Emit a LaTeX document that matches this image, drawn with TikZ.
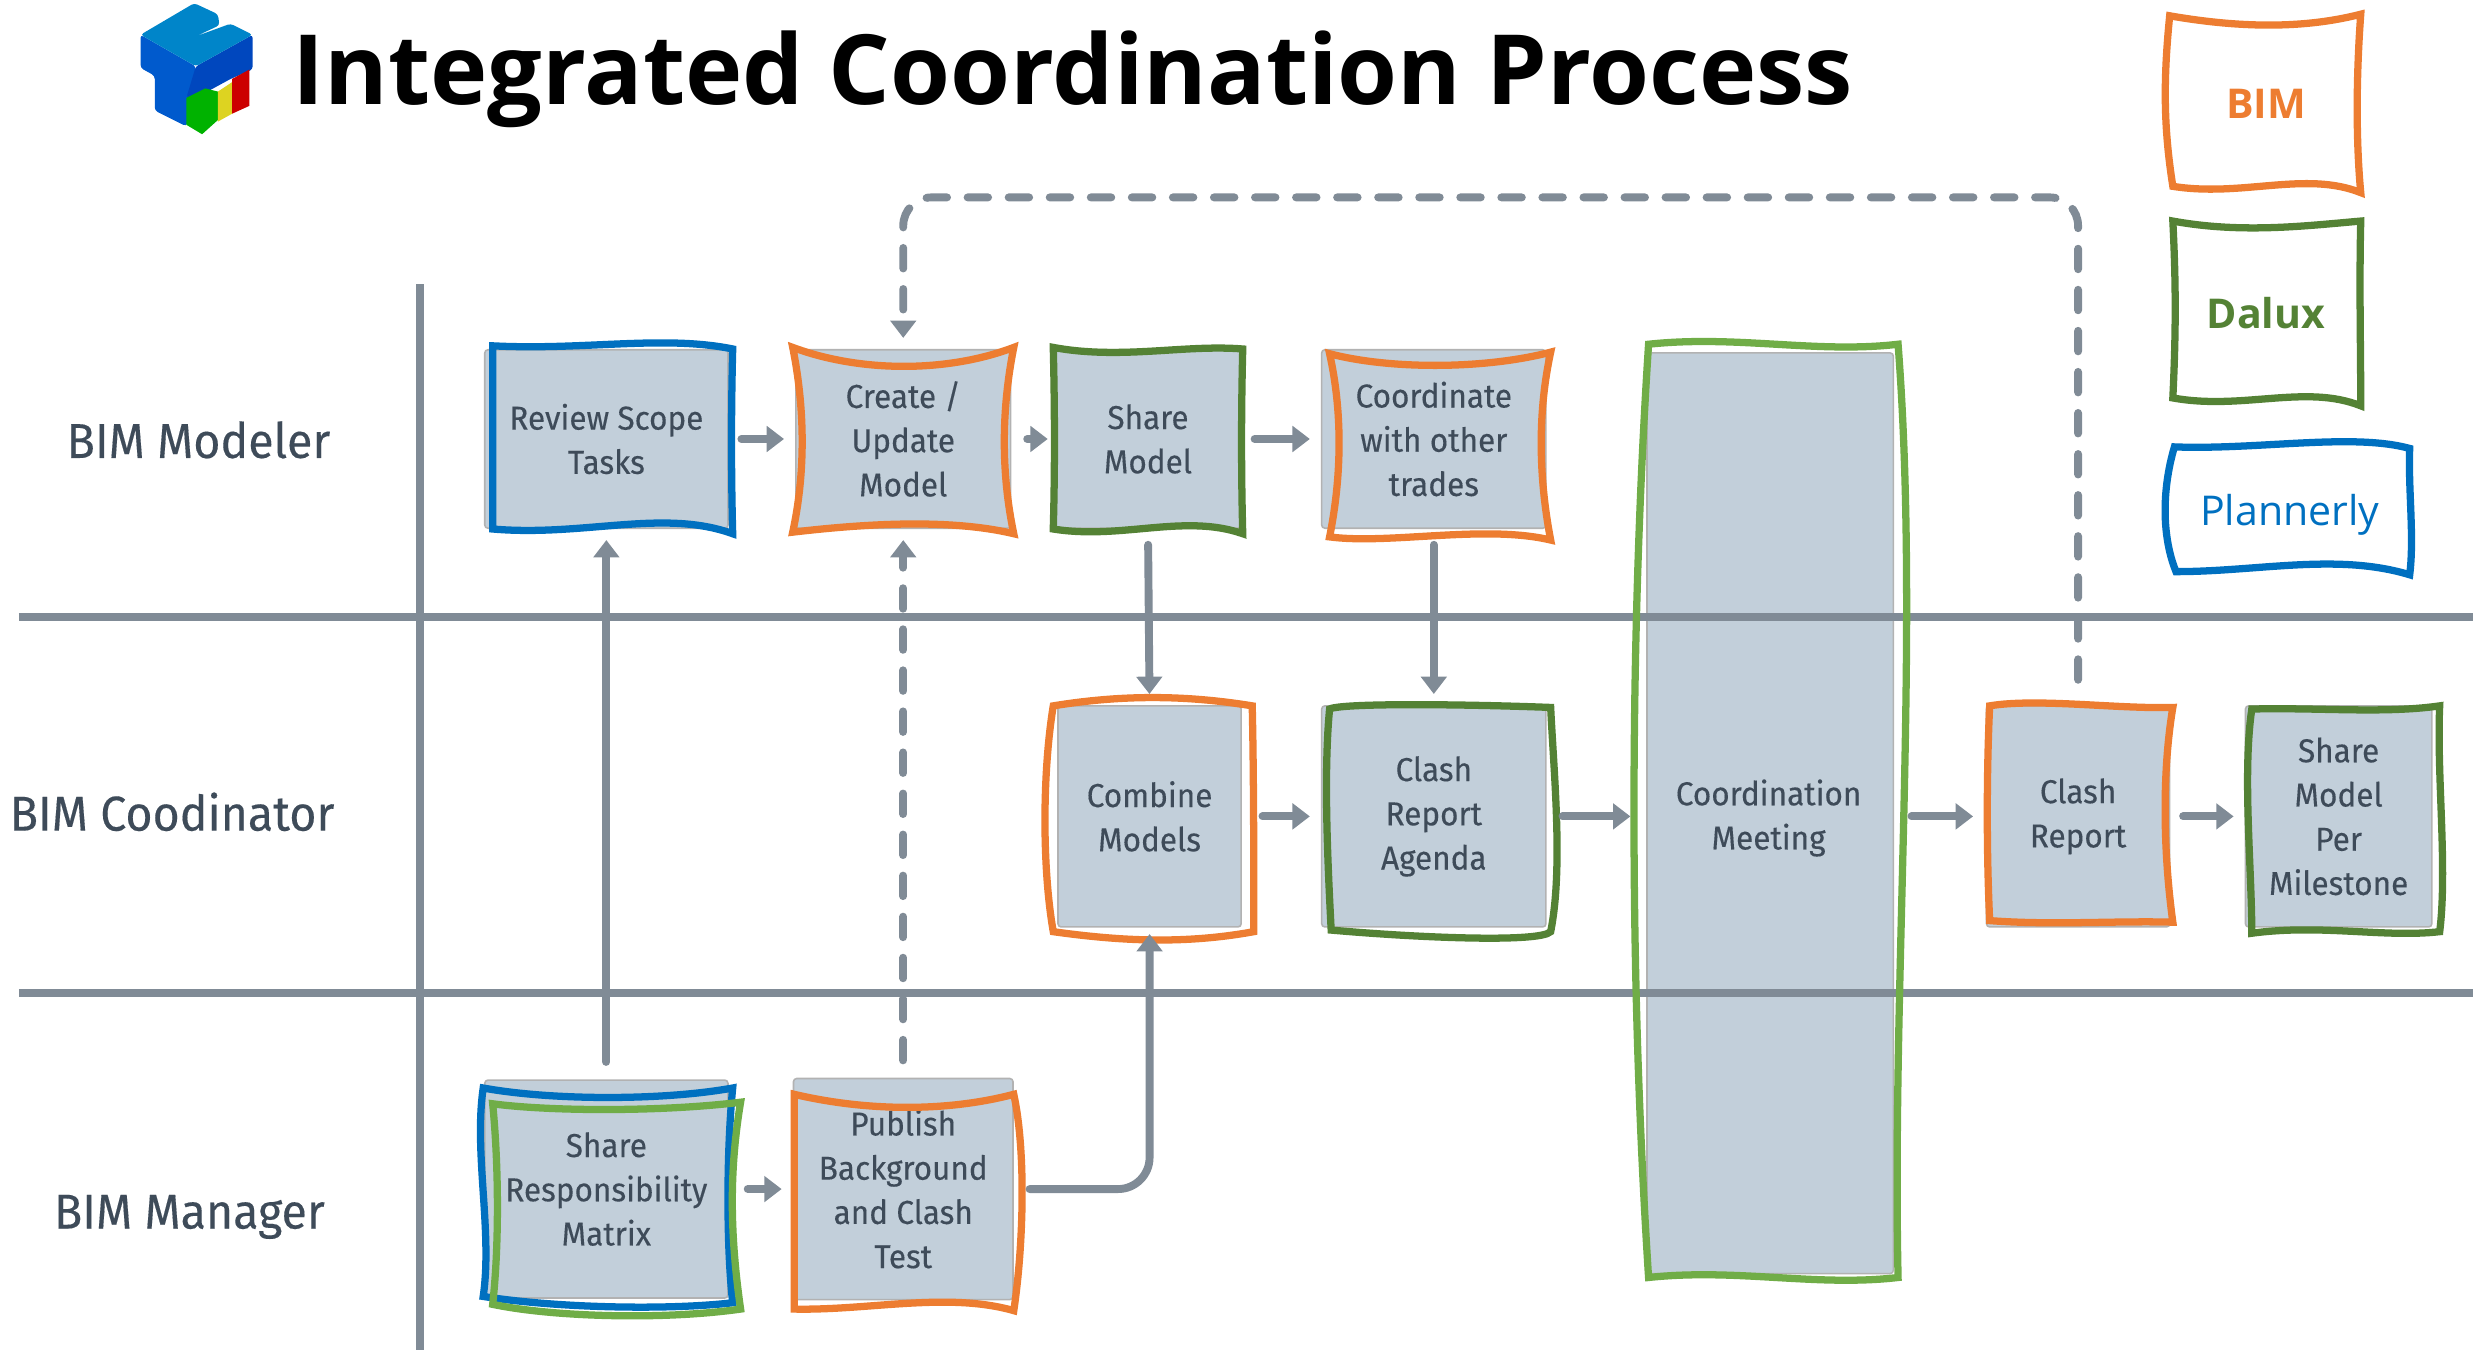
\documentclass[tikz,border=0pt]{standalone}
\usepackage{fontspec}
\usepackage{xcolor}
\usetikzlibrary{arrows.meta}
\setmainfont{Fira Sans}[FakeStretch=0.95,FakeBold=0.25]
\newfontfamily\legendfont{Open Sans}

\definecolor{bimcolor}{HTML}{ED7D31}
\definecolor{daluxcolor}{HTML}{548235}
\definecolor{meetcolor}{HTML}{70AD47}
\definecolor{plancolor}{HTML}{0070C0}
\definecolor{boxfill}{HTML}{C2CFDA}
\definecolor{lanecolor}{HTML}{808B96}
\definecolor{inkcolor}{HTML}{3E4B59}

\tikzset{
  taskbox/.style={draw=black!30,line width=1pt,fill=boxfill,rounded corners=2pt,inner sep=0pt,
    text=inkcolor,font=\fontsize{21}{28}\selectfont,align=center},
  lanelabel/.style={text=inkcolor,font=\fontsize{31}{34}\selectfont,anchor=base west,inner sep=0pt},
  lane/.style={lanecolor,line width=5pt},
  flow/.style={lanecolor,line width=5pt,line cap=round,-{Triangle[length=11pt,width=16pt]}},
  flowdash/.style={flow,dash pattern=on 13pt off 13pt},
  bimline/.style={draw=bimcolor,line width=4.6pt,miter limit=8},
  daluxline/.style={draw=daluxcolor,line width=4.6pt,miter limit=8},
  meetline/.style={draw=meetcolor,line width=4.6pt,miter limit=8},
  planline/.style={draw=plancolor,line width=4.6pt,miter limit=8},
}

\begin{document}
\begin{tikzpicture}[x=1pt,y=-1pt]
  \useasboundingbox (0,0) rectangle (1568,856.83);

  % logo
  \fill[rounded corners=2pt,blue!20!plancolor] (89,22) -- (89,43) -- (98,48) -- (98,70) -- (118,80) -- (124,62) -- (124,42) -- cycle;
  \fill[rounded corners=2pt,blue!30!plancolor!90!black] (124,42) -- (160,22) -- (160,44) -- (146,50) -- (124,62) -- (118,62) -- cycle;
  \fill[rounded corners=2pt,plancolor!85!cyan] (89,22) -- (123,2) -- (138,9) -- (139,16) -- (124,23) -- (146,15) -- (160,22) -- (124,42) -- cycle;
  \fill[green!70!black] (118,62) -- (130,56) -- (138,58) -- (138,76) -- (128,85) -- (118,79) -- cycle;
  \fill[yellow!85!black] (138,58) -- (147,52) -- (147,72) -- (138,77) -- cycle;
  \fill[red!80!black] (147,50) -- (158,44) -- (158,67) -- (147,72) -- cycle;

  % title
  \node[anchor=base west,inner sep=0pt,font={\legendfont\bfseries\fontsize{61.4}{70}\selectfont}] (title) at (185,66) {Integrated Coordination Process};

  % lane labels
  \node[lanelabel] (modeler) at (42,290) {BIM Modeler};
  \node[lanelabel] (coodinator) at (6,526) {BIM Coodinator};
  \node[lanelabel] (manager) at (34,778) {BIM Manager};

  % tasks
  \node[taskbox,minimum width=154pt,minimum height=113pt] (review) at (384,278) {Review Scope\\Tasks};
  \node[taskbox,minimum width=136pt,minimum height=113pt] (create) at (572,278) {Create /\\Update\\Model};
  \node[taskbox,minimum width=118pt,minimum height=113pt] (share) at (727,278) {Share\\Model};
  \node[taskbox,minimum width=142pt,minimum height=113pt] (coordinate) at (908,278) {Coordinate\\with other\\trades};
  \node[taskbox,minimum width=156pt,minimum height=583pt] (meeting) at (1121,515) {};
  \node[text=inkcolor,font=\fontsize{21}{28}\selectfont,align=center] (meetingtext) at (1120,518) {Coordination\\Meeting};
  \node[taskbox,minimum width=116pt,minimum height=140pt] (combine) at (728,517) {Combine\\Models};
  \node[taskbox,minimum width=142pt,minimum height=140pt] (agenda) at (908,517) {Clash\\Report\\Agenda};
  \node[taskbox,minimum width=116pt,minimum height=140pt] (clash) at (1316,517) {Clash\\Report};
  \node[taskbox,minimum width=118pt,minimum height=140pt] (milestone) at (1481,517) {Share\\Model\\Per\\Milestone};
  \node[taskbox,minimum width=154pt,minimum height=138pt] (matrix) at (384,753) {Share\\Responsibility\\Matrix};
  \node[taskbox,minimum width=139pt,minimum height=140pt] (publish) at (572,753) {Publish\\Background\\and Clash\\Test};

  % lanes
  \draw[lane] (12,391) -- (1566,391);
  \draw[lane] (12,629) -- (1566,629);
  \draw[lane] (266,180) -- (266,855);

  % sketched outlines
  \draw[planline] (312,219) .. controls (370,222) and (420,212) .. (464,221) .. controls (463,260) and (463,300) .. (464,338) .. controls (420,322) and (370,340) .. (312,335) .. controls (312,300) and (312,260) .. (312,219) -- cycle;
  \draw[bimline] (502,220) .. controls (545,236) and (600,236) .. (642,220) .. controls (634,260) and (634,300) .. (642,338) .. controls (600,328) and (545,332) .. (502,337) .. controls (510,300) and (510,260) .. (502,220) -- cycle;
  \draw[daluxline] (667,220) .. controls (710,228) and (750,218) .. (787,221) .. controls (786,260) and (786,300) .. (787,338) .. controls (750,325) and (710,342) .. (667,335) .. controls (668,300) and (668,260) .. (667,220) -- cycle;
  \draw[bimline] (842,224) .. controls (880,234) and (940,234) .. (982,223) .. controls (974,260) and (974,300) .. (982,342) .. controls (940,332) and (880,345) .. (842,340) .. controls (850,300) and (850,260) .. (842,224) -- cycle;
  \draw[meetline] (1044,218) .. controls (1100,212) and (1150,224) .. (1202,218) .. controls (1216,400) and (1198,620) .. (1202,809) .. controls (1150,815) and (1100,803) .. (1044,809) .. controls (1028,560) and (1036,340) .. (1044,218) -- cycle;
  \draw[bimline] (667,447) .. controls (710,440) and (750,440) .. (793,447) .. controls (794,490) and (794,550) .. (794,590) .. controls (750,598) and (710,596) .. (667,590) .. controls (660,550) and (660,490) .. (667,447) -- cycle;
  \draw[daluxline] (842,449) .. controls (850,445) and (930,446) .. (982,448) .. controls (984,490) and (990,550) .. (982,590) .. controls (975,597) and (900,594) .. (843,589) .. controls (841,550) and (838,490) .. (842,449) -- cycle;
  \draw[bimline] (1260,447) .. controls (1290,442) and (1340,449) .. (1376,448) .. controls (1369,490) and (1370,540) .. (1376,584) .. controls (1340,583) and (1300,586) .. (1260,583) .. controls (1258,540) and (1258,490) .. (1260,447) -- cycle;
  \draw[daluxline] (1426,449) .. controls (1470,448) and (1510,452) .. (1545,447) .. controls (1543,490) and (1550,550) .. (1545,590) .. controls (1510,594) and (1470,585) .. (1426,591) .. controls (1426,550) and (1420,490) .. (1426,449) -- cycle;
  \draw[planline] (306,689) .. controls (350,697) and (420,697) .. (464,689) .. controls (460,730) and (460,790) .. (464,825) .. controls (420,830) and (350,828) .. (306,821) .. controls (312,780) and (300,730) .. (306,689) -- cycle;
  \draw[meetline] (312,699) .. controls (350,704) and (420,704) .. (469,698) .. controls (462,740) and (462,780) .. (469,829) .. controls (420,836) and (350,834) .. (312,826) .. controls (316,790) and (316,740) .. (312,699) -- cycle;
  \draw[bimline] (503,693) .. controls (550,704) and (600,704) .. (642,693) .. controls (650,730) and (648,790) .. (642,830) .. controls (600,818) and (550,830) .. (503,829) .. controls (503,790) and (503,740) .. (503,693) -- cycle;

  % connectors
  \draw[flow,shorten <=8pt,shorten >=7pt] (review) -- (create);
  \draw[flow,shorten <=10pt,shorten >=4pt] (create) -- (share);
  \draw[flow,shorten <=8pt,shorten >=7pt] (share) -- (coordinate);
  \draw[flow,shorten <=10pt,shorten >=7pt] (share.south) -- (combine.north);
  \draw[flow,shorten <=10pt,shorten >=7pt] (coordinate.south) -- (agenda.north);
  \draw[flow,shorten <=13pt,shorten >=7pt] (combine) -- (agenda);
  \draw[flow,shorten <=10pt,shorten >=10pt] (agenda.east) -- (agenda.east -| meeting.west);
  \draw[flow,shorten <=11pt,shorten >=8pt] (meeting.east |- clash.west) -- (clash.west);
  \draw[flow,shorten <=8pt,shorten >=7pt] (clash) -- (milestone);
  \draw[flow,shorten <=11pt,shorten >=7pt] (matrix.north) -- (review.south);
  \draw[flow,shorten <=12pt,shorten >=7pt] (matrix.east |- publish.west) -- (publish.west);
  \draw[flowdash,shorten <=11pt,shorten >=7pt] (publish.north) -- (create.south);
  \draw[flow,rounded corners=20pt,shorten <=10pt,shorten >=4pt] (publish.east) -- (publish.east -| combine.south) -- (combine.south);
  \coordinate (dashtop) at (1315,125);
  \draw[flowdash,rounded corners=18pt,shorten <=16pt,shorten >=7pt] (clash.north) -- (clash.north |- dashtop) -- (create.north |- dashtop) -- (create.north);

  % legend
  \draw[bimline] (1374,10) .. controls (1420,18) and (1460,18) .. (1495,9) .. controls (1492,50) and (1492,90) .. (1495,122) .. controls (1460,108) and (1420,125) .. (1376,118) .. controls (1370,80) and (1370,50) .. (1374,10) -- cycle;
  \node[text=bimcolor,font={\legendfont\bfseries\fontsize{26}{30}\selectfont}] (legendbim) at (1435,66) {BIM};
  \draw[daluxline] (1376,140) .. controls (1420,148) and (1460,143) .. (1495,140) .. controls (1494,180) and (1495,220) .. (1495,257) .. controls (1460,243) and (1420,260) .. (1376,252) .. controls (1378,210) and (1378,180) .. (1376,140) -- cycle;
  \node[text=daluxcolor,font={\legendfont\bfseries\fontsize{26}{30}\selectfont}] (legenddalux) at (1435,198) {Dalux};
  \draw[planline] (1377,283) .. controls (1430,285) and (1490,274) .. (1526,284) .. controls (1525,310) and (1529,340) .. (1526,364) .. controls (1480,350) and (1430,362) .. (1378,362) .. controls (1369,340) and (1369,310) .. (1377,283) -- cycle;
  \node[text=plancolor,font={\legendfont\fontsize{26}{30}\selectfont}] (legendplan) at (1450,326) {Plannerly};
\end{tikzpicture}
\end{document}
